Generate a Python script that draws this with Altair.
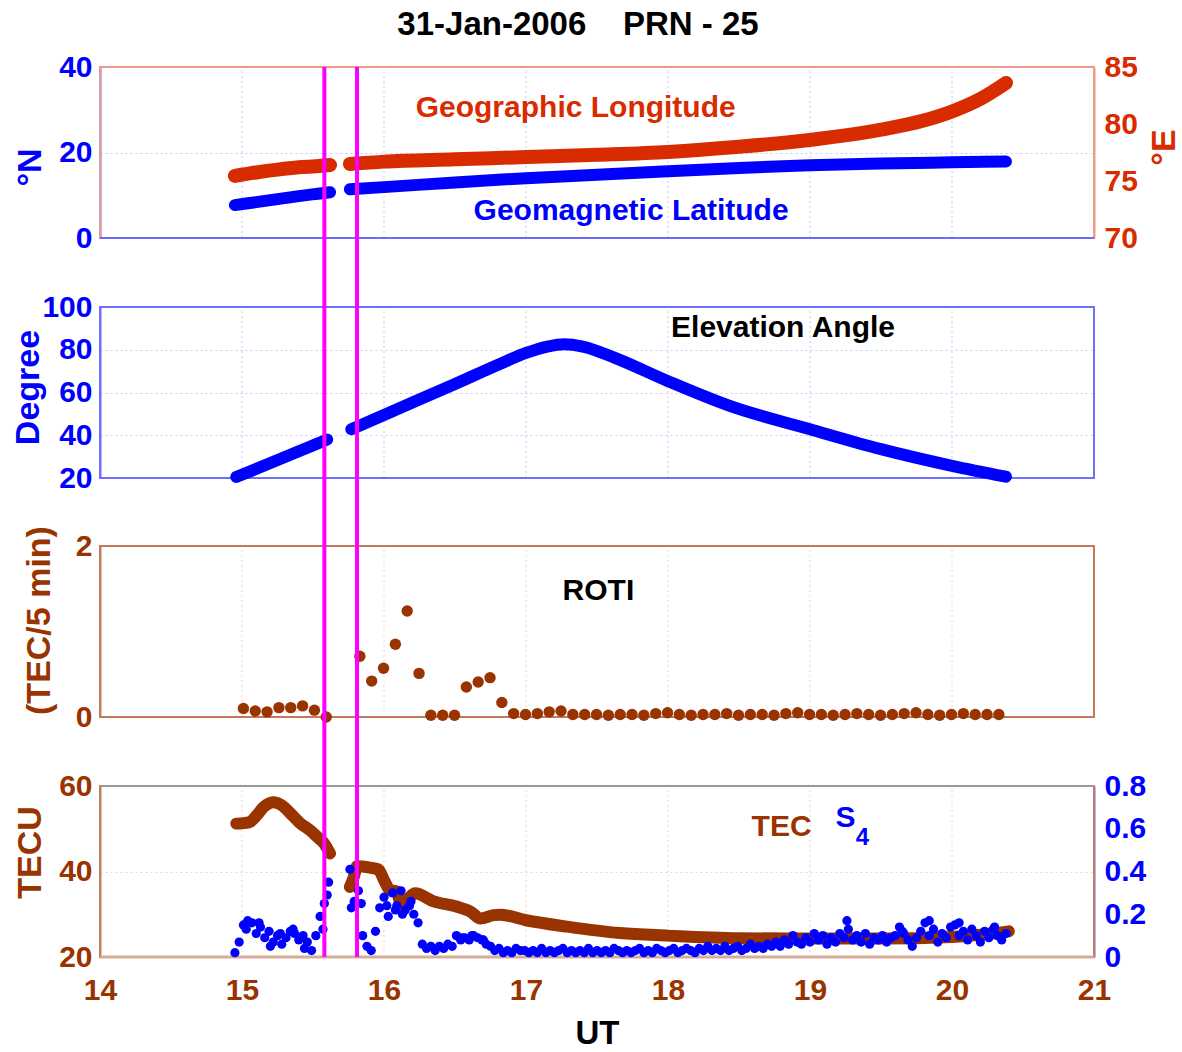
import altair as alt
import pandas as pd

FONT = "Liberation Sans"
BLUE = "#0000ff"
RED = "#d92b00"
BROWN = "#993300"
MAGENTA = "#ff00ff"

# ---------------- values ----------------
x_ticks = [14, 15, 16, 17, 18, 19, 20, 21]
event_ut = [15.58, 15.81]

# Geographic longitude (deg E), two passes separated by a data gap
lon_t1 = [14.95, 15.10, 15.25, 15.40, 15.52, 15.62]
lon_v1 = [75.45, 75.75, 76.0, 76.2, 76.3, 76.4]
lon_t2 = [15.76, 16.0, 16.5, 17.0, 17.5, 18.0, 18.5, 19.0, 19.5, 19.8, 20.0, 20.2, 20.38]
lon_v2 = [76.5, 76.7, 76.9, 77.1, 77.3, 77.55, 78.0, 78.6, 79.5, 80.3, 81.1, 82.2, 83.6]

# Geomagnetic latitude (deg N)
lat_t1 = [14.95, 15.10, 15.25, 15.40, 15.52, 15.62]
lat_v1 = [7.7, 8.4, 9.1, 9.8, 10.3, 10.7]
lat_t2 = [15.76, 16.0, 16.5, 17.0, 17.5, 18.0, 18.5, 19.0, 19.5, 20.0, 20.38]
lat_v2 = [11.4, 11.9, 13.0, 14.0, 14.8, 15.6, 16.4, 17.0, 17.4, 17.7, 17.9]

# Elevation angle (deg)
el_t1 = [14.96, 15.20, 15.40, 15.60]
el_v1 = [20.5, 27.0, 32.5, 38.0]
el_t2 = [15.77, 16.0, 16.5, 16.82, 17.0, 17.15, 17.27, 17.4, 17.63, 18.0, 18.44, 19.0, 19.5, 20.0, 20.38]
el_v2 = [42.8, 49.5, 64.0, 73.5, 78.5, 81.5, 82.6, 81.5, 76.1, 65.3, 53.6, 42.8, 33.5, 25.7, 20.6]

# ROTI (TEC/5 min), one value every 5 minutes
roti_start1 = 15.01
roti_v1 = [0.10, 0.07, 0.06, 0.11, 0.11, 0.13, 0.08, 0.0]
roti_start2 = 15.83
roti_v2 = [0.71, 0.42, 0.57, 0.85, 1.24, 0.51, 0.02, 0.02, 0.02, 0.35, 0.41, 0.46, 0.17,
           0.04, 0.03, 0.04, 0.06, 0.07, 0.03, 0.03, 0.03,
           0.02, 0.03, 0.03, 0.02, 0.04, 0.05, 0.03, 0.02, 0.03, 0.03, 0.04, 0.02, 0.03,
           0.03, 0.02, 0.04, 0.05, 0.03, 0.03, 0.02, 0.03, 0.04, 0.03, 0.02, 0.03, 0.04,
           0.05, 0.03, 0.02, 0.03, 0.04, 0.03, 0.03, 0.03]

# TEC (TECU)
tec_t1 = [14.96, 15.05, 15.10, 15.15, 15.22, 15.28, 15.35, 15.41, 15.48, 15.53, 15.58, 15.62]
tec_v1 = [51.2, 51.5, 53.0, 55.0, 56.2, 55.5, 53.3, 51.3, 49.6, 48.1, 46.5, 44.2]
tec_t2 = [15.76, 15.79, 15.81, 15.90, 15.96, 16.00, 16.04, 16.09, 16.12, 16.16, 16.22, 16.35,
          16.51, 16.61, 16.68, 16.77, 16.82, 17.0, 17.29, 17.66, 18.0, 18.5, 19.0, 19.5,
          20.0, 20.2, 20.4]
tec_v2 = [36.4, 39.0, 41.2, 40.9, 40.5, 38.0, 35.7, 35.3, 32.2, 33.3, 34.9, 33.0,
          31.8, 30.6, 29.0, 29.8, 29.9, 28.6, 27.1, 25.6, 25.0, 24.4, 24.3, 24.3,
          24.7, 25.2, 26.0]

# S4 index, sampled every 0.03 h
s4_start1 = 14.95
s4_v1 = [0.02, 0.07, 0.15, 0.17, 0.16, 0.11, 0.14, 0.09, 0.12, 0.07, 0.10, 0.06,
         0.09, 0.12, 0.11, 0.08, 0.10, 0.07, 0.03, 0.10, 0.19, 0.25, 0.35]
s4_start2 = 15.76
s4_v2 = [0.41, 0.26, 0.31, 0.10, 0.05, 0.03, 0.12, 0.23, 0.28, 0.19, 0.30, 0.24,
         0.31, 0.22, 0.24, 0.20, 0.16, 0.06,
         0.04, 0.05, 0.03, 0.05, 0.04, 0.06, 0.05, 0.10, 0.08, 0.09, 0.08, 0.10,
         0.09, 0.08, 0.06, 0.05, 0.03, 0.04, 0.02, 0.03, 0.02, 0.04, 0.03, 0.03,
         0.02, 0.03, 0.02, 0.04, 0.02, 0.03, 0.02, 0.03, 0.04, 0.02, 0.03, 0.02,
         0.03, 0.02, 0.04, 0.02, 0.03, 0.02, 0.03, 0.02, 0.04, 0.03, 0.02, 0.03,
         0.02, 0.03, 0.04, 0.02, 0.03, 0.02, 0.04, 0.03, 0.02,
         0.03, 0.04, 0.02, 0.03, 0.04, 0.03, 0.02, 0.04, 0.03, 0.05, 0.03, 0.04,
         0.03, 0.05, 0.03, 0.04, 0.05, 0.03, 0.04, 0.06, 0.04, 0.05, 0.04, 0.06,
         0.05, 0.07, 0.05, 0.08, 0.06, 0.10, 0.07, 0.06, 0.09,
         0.07, 0.11, 0.08, 0.10, 0.06, 0.09, 0.07, 0.11, 0.09, 0.13, 0.08, 0.10,
         0.07, 0.11, 0.06, 0.09, 0.08, 0.10, 0.07, 0.09, 0.10, 0.14, 0.11, 0.08,
         0.05, 0.09, 0.12, 0.16, 0.10, 0.13, 0.07, 0.11, 0.09, 0.14, 0.15, 0.10,
         0.12, 0.08, 0.13, 0.10, 0.07, 0.12, 0.09, 0.13, 0.10, 0.08, 0.11]
s4_extra_t = [15.03, 15.12, 15.20, 15.27, 15.36, 15.44, 15.57, 15.60, 15.77, 15.84, 16.02,
              16.08, 16.13, 16.19, 16.55, 16.62, 16.70, 19.26, 19.65, 19.84, 20.05, 20.30]
s4_extra_v = [0.13, 0.16, 0.05, 0.11, 0.13, 0.04, 0.13, 0.29, 0.23, 0.25, 0.24,
              0.22, 0.20, 0.26, 0.09, 0.10, 0.08, 0.17, 0.12, 0.17, 0.16, 0.14]

# ---------------- tables ----------------
def two_seg(t1, v1, t2, v2):
    return pd.DataFrame({"t": t1 + t2, "v": v1 + v2,
                         "seg": ["a"] * len(t1) + ["b"] * len(t2)})

lon_df = two_seg(lon_t1, lon_v1, lon_t2, lon_v2)
lat_df = two_seg(lat_t1, lat_v1, lat_t2, lat_v2)
el_df = two_seg(el_t1, el_v1, el_t2, el_v2)
tec_df = two_seg(tec_t1, tec_v1, tec_t2, tec_v2)
roti_df = pd.DataFrame({
    "t": [round(roti_start1 + i / 12, 4) for i in range(len(roti_v1))]
         + [round(roti_start2 + i / 12, 4) for i in range(len(roti_v2))],
    "v": roti_v1 + roti_v2})
s4_df = pd.DataFrame({
    "t": [round(s4_start1 + 0.03 * i, 4) for i in range(len(s4_v1))]
         + [round(s4_start2 + 0.03 * i, 4) for i in range(len(s4_v2))] + s4_extra_t,
    "v": s4_v1 + s4_v2 + s4_extra_v})
event_df = pd.DataFrame({"t": event_ut})

# ---------------- layout ----------------
W, H = 994, 890
BAND1, BAND2, BAND3, BAND4 = [171, 0], [411, 240], [650, 479], [890, 719]

xscale = alt.Scale(domain=[14, 21], nice=False, zero=False)
xaxis = alt.Axis(values=x_ticks, format="d", title="UT", grid=False, domain=False,
                 ticks=False, tickSize=0, labelFont=FONT, labelFontSize=30,
                 labelFontWeight="bold", labelColor=BROWN, labelPadding=18,
                 labelFlush=False, titleFont=FONT, titleFontSize=33,
                 titleFontWeight="bold", titleColor="black", titleY=60,
                 titleBaseline="top")


def X(field):
    return alt.X(f"{field}:Q", scale=xscale, axis=xaxis)


def ysc(domain, band):
    return alt.Scale(domain=domain, range=band, nice=False, zero=False)


def yaxis(values, color, title, orient, tx, ty, grid=None, fmt=None, domcolor=None):
    kw = dict(orient=orient, values=values, grid=grid is not None, domain=True,
              domainColor=domcolor or color, domainWidth=2, ticks=False, tickSize=0,
              labelFont=FONT, labelFontSize=30, labelFontWeight="bold",
              labelColor=color, labelPadding=8 if orient == "left" else 10,
              labelFlush=False, labelOverlap=False)
    if grid is not None:
        kw.update(gridColor=grid, gridDash=[2, 3], gridWidth=1)
    if fmt is not None:
        kw["format"] = fmt
    if title:
        kw.update(title=title, titleFont=FONT, titleFontSize=34, titleFontWeight="bold",
                  titleColor=color, titleAngle=270, titleX=tx, titleY=ty,
                  titleAlign="center", titleBaseline="middle")
    else:
        kw["title"] = None
    return alt.Axis(**kw)


def frame(domain, band, color, axis=None, width=2):
    df = pd.DataFrame({"x0": [14], "x1": [21], "y0": [domain[0]], "y1": [domain[1]]})
    return alt.Chart(df).mark_rect(fill=None, filled=False, stroke=color,
                                   strokeWidth=width).encode(
        x=X("x0"), x2="x1:Q",
        y=alt.Y("y0:Q", scale=ysc(domain, band), axis=axis), y2="y1:Q")


def hedge(domain, band, yval, color, width=2):
    df = pd.DataFrame({"x0": [14], "x1": [21], "y": [yval]})
    return alt.Chart(df).mark_rule(color=color, strokeWidth=width).encode(
        x=X("x0"), x2="x1:Q", y=alt.Y("y:Q", scale=ysc(domain, band), axis=None))


def vgrid(domain, band, color):
    df = pd.DataFrame({"t": x_ticks[1:-1], "y0": domain[0], "y1": domain[1]})
    return alt.Chart(df).mark_rule(color=color, strokeDash=[2, 3], strokeWidth=1).encode(
        x=X("t"), y=alt.Y("y0:Q", scale=ysc(domain, band), axis=None), y2="y1:Q")


def label(text, x, y, domain, band, color, size=30):
    df = pd.DataFrame({"x": [x], "y": [y], "s": [text]})
    return alt.Chart(df).mark_text(font=FONT, fontSize=size, fontWeight="bold",
                                   color=color, align="center", baseline="middle").encode(
        x=X("x"), y=alt.Y("y:Q", scale=ysc(domain, band), axis=None), text="s:N")


def thick_line(df, domain, band, color, width, axis=None):
    return alt.Chart(df).mark_line(color=color, strokeWidth=width, strokeCap="round",
                                   strokeJoin="round", interpolate="monotone").encode(
        x=X("t"), y=alt.Y("v:Q", scale=ysc(domain, band), axis=axis), detail="seg:N")


D1L, D1R, D2, D3, D4L, D4R = [0, 40], [70, 85], [20, 100], [0, 2], [20, 60], [0, 0.8]
LBLUE, LBROWN = "#c6c6ff", "#ecd6cc"

layers = [
    # panel 1: latitude / longitude
    vgrid(D1L, BAND1, LBLUE),
    frame(D1L, BAND1, "#ee9a88",
          axis=yaxis([0, 20, 40], BLUE, "°N", "left", -70, 100, grid=LBLUE, domcolor="#6a6aff")),
    hedge(D1L, BAND1, 0, "#6a6aff"),
    thick_line(lat_df, D1L, BAND1, BLUE, 12),
    thick_line(lon_df, D1R, BAND1, RED, 14,
               axis=yaxis([70, 75, 80, 85], RED, "°E", "right", 70, 80, domcolor="#ee9a88")),
    label("Geographic Longitude", 17.35, 30.4, D1L, BAND1, RED),
    label("Geomagnetic Latitude", 17.74, 6.3, D1L, BAND1, BLUE),
    # panel 2: elevation
    vgrid(D2, BAND2, LBLUE),
    frame(D2, BAND2, "#6f6fff",
          axis=yaxis([20, 40, 60, 80, 100], BLUE, "Degree", "left", -72, 320, grid=LBLUE,
                     domcolor="#6f6fff")),
    thick_line(el_df, D2, BAND2, BLUE, 12),
    label("Elevation Angle", 18.81, 90.2, D2, BAND2, "black"),
    # panel 3: ROTI
    vgrid(D3, BAND3, LBROWN),
    frame(D3, BAND3, "#c27a5a",
          axis=yaxis([0, 1, 2], BROWN, "(TEC/5 min)", "left", -61, 553, grid=LBROWN,
                     fmt="d", domcolor="#c27a5a")),
    alt.Chart(roti_df).mark_circle(color=BROWN, size=130, opacity=1).encode(
        x=X("t"), y=alt.Y("v:Q", scale=ysc(D3, BAND3), axis=None)),
    label("ROTI", 17.51, 1.47, D3, BAND3, "black"),
    # panel 4: TEC and S4
    vgrid(D4L, BAND4, LBROWN),
    frame(D4L, BAND4, "#c08060",
          axis=yaxis([20, 40, 60], BROWN, "TECU", "left", -70, 785, grid=LBROWN,
                     domcolor="#c08060")),
    hedge(D4L, BAND4, 60, "#999999"),
    hedge(D4L, BAND4, 20, "#d8ab96", width=3),
    thick_line(tec_df, D4L, BAND4, BROWN, 12),
    alt.Chart(s4_df).mark_circle(color=BLUE, size=85, opacity=1).encode(
        x=X("t"), y=alt.Y("v:Q", scale=ysc(D4R, BAND4),
                          axis=yaxis([0, 0.2, 0.4, 0.6, 0.8], BLUE, None, "right", 0, 0,
                                     fmt="~g", domcolor="#6666ff"))),
    label("TEC", 18.80, 50.4, D4L, BAND4, BROWN),
    label("S", 19.25, 52.6, D4L, BAND4, BLUE),
    label("4", 19.37, 47.8, D4L, BAND4, BLUE, size=24),
    # event markers spanning all panels
    alt.Chart(event_df).mark_rule(color=MAGENTA, strokeWidth=4).encode(x=X("t")),
]

chart = alt.layer(*layers).resolve_scale(y="independent").properties(
    width=W, height=H,
    title=alt.TitleParams(text="31-Jan-2006\u00a0\u00a0\u00a0\u00a0PRN - 25", font=FONT,
                          fontSize=33, fontWeight="bold", color="black", anchor="middle",
                          dx=-19, dy=33, offset=17, baseline="alphabetic"),
    padding={"left": 100, "top": 67, "right": 88, "bottom": 95},
    autosize=alt.AutoSizeParams(type="none"),
    background="white",
).configure_view(stroke=None)

chart.save("out.html", embed_options={"renderer": "svg", "actions": False})
